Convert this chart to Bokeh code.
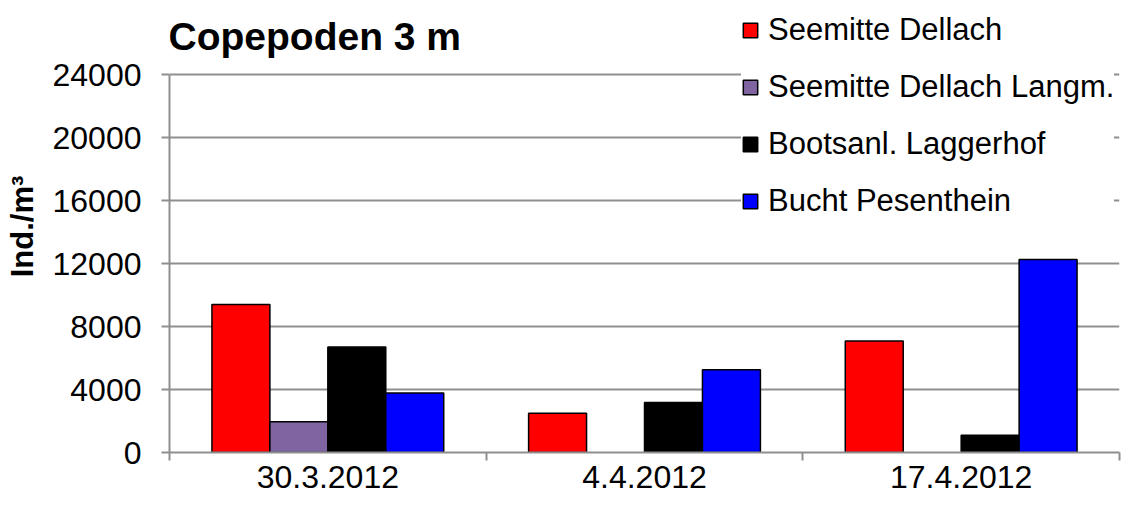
from bokeh.plotting import figure
from bokeh.models import ColumnDataSource, Range1d, FixedTicker, Legend, LegendItem, Label
from bokeh.transform import dodge
from bokeh.embed import file_html
from bokeh.resources import INLINE

nan = float("nan")

# ---- data ----
dates = ["30.3.2012", "4.4.2012", "17.4.2012"]
series_names = ["Seemitte Dellach", "Seemitte Dellach Langm.", "Bootsanl. Laggerhof", "Bucht Pesenthein"]
seemitte_dellach = [9400, 2500, 7080]
seemitte_dellach_langm = [1950, nan, nan]
bootsanl_laggerhof = [6700, 3180, 1100]
bucht_pesenthein = [3780, 5250, 12260]
y_ticks = [0, 4000, 8000, 12000, 16000, 20000, 24000]
title_text = "Copepoden 3 m"
y_label = "Ind./m³"

colors = ["#FF0000", "#8064A2", "#000000", "#0000FF"]
FONT = "Liberation Sans"
GRAY = "#8f8f8f"

W, H = 1128, 493
B_LEFT, B_RIGHT, B_TOP, B_BOTTOM = 169, 9, 0, 41
PLOT_TOP = 74          # pixel row of the top tick inside the figure
frame_h = H - B_TOP - B_BOTTOM
y_end = y_ticks[-1] * frame_h / (frame_h - (PLOT_TOP - B_TOP))

values = [seemitte_dellach, seemitte_dellach_langm, bootsanl_laggerhof, bucht_pesenthein]
xc = [i + 0.5 for i in range(len(dates))]

p = figure(width=W, height=H, output_backend="svg", toolbar_location=None,
           x_range=Range1d(0, len(dates)), y_range=Range1d(y_ticks[0], y_end),
           min_border_left=B_LEFT, min_border_right=B_RIGHT,
           min_border_top=B_TOP, min_border_bottom=B_BOTTOM)
p.outline_line_color = None
p.background_fill_color = "white"
p.border_fill_color = "white"

bw = 0.183
offsets = [(-1.5 + i) * bw for i in range(4)]
items = []
for name, vals, col, off in zip(series_names, values, colors, offsets):
    src = ColumnDataSource(dict(x=xc, v=vals))
    r = p.vbar(x=dodge("x", off, range=p.x_range), top="v", width=bw, source=src,
               fill_color=col, line_color="black", line_width=1.5)
    items.append(LegendItem(label=name, renderers=[r]))

# title as label inside the extended frame
title = Label(x=-1, y=frame_h - 36, x_units="screen", y_units="screen", text=title_text,
              text_font=FONT, text_font_size="39px", text_font_style="bold",
              text_color="black", text_baseline="alphabetic", text_align="left")
p.add_layout(title)

# y axis
ya = p.yaxis[0]
ya.ticker = FixedTicker(ticks=y_ticks)
ya.bounds = (y_ticks[0], y_ticks[-1])
ya.axis_line_color = GRAY
ya.axis_line_width = 2
ya.major_tick_line_color = GRAY
ya.major_tick_line_width = 2
ya.major_tick_out = 8
ya.major_tick_in = 0
ya.minor_tick_line_color = None
ya.major_label_text_font = FONT
ya.major_label_text_font_size = "32px"
ya.major_label_text_color = "black"
ya.major_label_standoff = 20
ya.axis_label = y_label
ya.axis_label_text_font = FONT
ya.axis_label_text_font_size = "31px"
ya.axis_label_text_font_style = "bold"
ya.axis_label_text_color = "black"
ya.axis_label_standoff = 10

# x axis
xa = p.xaxis[0]
xa.ticker = FixedTicker(ticks=xc, minor_ticks=list(range(len(dates) + 1)))
xa.major_label_overrides = {x: d for x, d in zip(xc, dates)}
xa.axis_line_color = GRAY
xa.axis_line_width = 2
xa.major_tick_line_color = None
xa.major_tick_out = 0
xa.major_tick_in = 0
xa.minor_tick_line_color = GRAY
xa.minor_tick_line_width = 2
xa.minor_tick_out = 8
xa.minor_tick_in = 0
xa.major_label_text_font = FONT
xa.major_label_text_font_size = "32px"
xa.major_label_text_color = "black"
xa.major_label_standoff = 5

p.xgrid.grid_line_color = None
p.ygrid.grid_line_color = GRAY
p.ygrid.grid_line_width = 2

legend = Legend(items=items, location=(572, 233))
legend.border_line_color = None
legend.background_fill_color = "white"
legend.background_fill_alpha = 1.0
legend.padding = 16
legend.margin = 0
legend.spacing = 21
legend.glyph_width = 18
legend.glyph_height = 18
legend.label_standoff = 9
legend.label_text_font = FONT
legend.label_text_font_size = "31px"
legend.label_text_color = "black"
p.add_layout(legend)

open("out.html", "w").write(file_html(p, INLINE))
